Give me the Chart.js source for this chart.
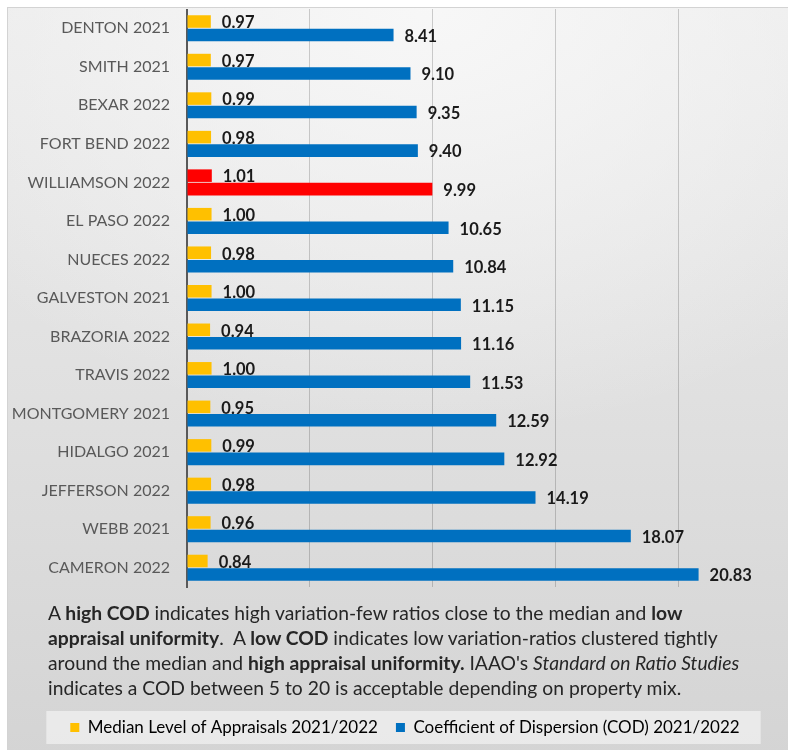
<!DOCTYPE html>
<html>
<head>
<meta charset="utf-8">
<script src="https://cdn.jsdelivr.net/npm/chart.js@4/dist/chart.umd.min.js"></script>
<style>
  html, body { margin: 0; padding: 0; background: #fff; width: 788px; height: 750px; overflow: hidden; }
  #frame {
    position: absolute; left: 7px; top: 7px; width: 840px; height: 780px;
    border: 1px solid #d3d3d3;
    background:
      radial-gradient(ellipse 70% 55% at 50% 0%, rgba(248,248,248,0.95), rgba(248,248,248,0) 100%),
      linear-gradient(to bottom, #ebebeb 0%, #e0e0e0 50%, #d3d3d3 100%);
  }
  #box { position: absolute; left: 9px; top: 9px; width: 800px; height: 741px; }
  #note {
    position: absolute; left: 48px; top: 600px;
    font: 19.3px Lato, "Open Sans", sans-serif; line-height: 25px;
    color: #262626; white-space: nowrap;
  }
</style>
</head>
<body>
<div id="frame"></div>
<div id="box"><canvas id="codChart"></canvas></div>
<div id="note">
  A <b>high COD</b> indicates high variation-few ratios close to the median and <b>low</b><br>
  <b>appraisal uniformity</b>.&nbsp; A <b>low COD</b> indicates low variation-ratios clustered tightly<br>
  around the median and <b>high appraisal uniformity.</b> IAAO's <i>Standard on Ratio Studies</i><br>
  indicates a COD between 5 to 20 is acceptable depending on property mix.
</div>
<script>
// counties, top to bottom
const counties = [
  'DENTON 2021', 'SMITH 2021', 'BEXAR 2022', 'FORT BEND 2022', 'WILLIAMSON 2022',
  'EL PASO 2022', 'NUECES 2022', 'GALVESTON 2021', 'BRAZORIA 2022', 'TRAVIS 2022',
  'MONTGOMERY 2021', 'HIDALGO 2021', 'JEFFERSON 2022', 'WEBB 2021', 'CAMERON 2022'
];
const medianLevel = [0.97, 0.97, 0.99, 0.98, 1.01, 1.00, 0.98, 1.00, 0.94, 1.00, 0.95, 0.99, 0.98, 0.96, 0.84];
const codValues = [8.41, 9.10, 9.35, 9.40, 9.99, 10.65, 10.84, 11.15, 11.16, 11.53, 12.59, 12.92, 14.19, 18.07, 20.83];
const highlight = 'WILLIAMSON 2022';

const YELLOW = '#FFC000';
const BLUE = '#0070C0';
const RED = '#FF0000';

const colorsFor = base => counties.map(c => c === highlight ? RED : base);

// value printed just past the end of each bar
const valueLabels = {
  id: 'valueLabels',
  afterDatasetsDraw(chart) {
    const ctx = chart.ctx;
    ctx.save();
    ctx.font = 'bold 16.5px Lato, sans-serif';
    ctx.fillStyle = '#1a1a1a';
    ctx.textBaseline = 'middle';
    ctx.textAlign = 'left';
    chart.data.datasets.forEach((ds, i) => {
      chart.getDatasetMeta(i).data.forEach((bar, j) => {
        ctx.fillText(ds.data[j].toFixed(2), bar.x + 11, bar.y + 1.5);
      });
    });
    ctx.restore();
  }
};

// light panel behind the legend
const legendPanel = {
  id: 'legendPanel',
  beforeDraw(chart) {
    const boxes = chart.legend && chart.legend.legendHitBoxes;
    if (!boxes || !boxes.length) return;
    const first = boxes[0], last = boxes[boxes.length - 1];
    const ctx = chart.ctx;
    const x0 = first.left - 24, x1 = last.left + last.width + 21;
    const y0 = first.top - 8, y1 = first.top + first.height + 8;
    ctx.save();
    ctx.fillStyle = 'rgba(240,240,240,0.75)';
    ctx.fillRect(x0, y0, x1 - x0, y1 - y0);
    ctx.restore();
  }
};

new Chart(document.getElementById('codChart'), {
  type: 'bar',
  data: {
    labels: counties,
    datasets: [
      {
        label: 'Median Level of Appraisals 2021/2022',
        data: medianLevel,
        backgroundColor: colorsFor(YELLOW),
        borderWidth: 0
      },
      {
        label: 'Coefficient of Dispersion (COD) 2021/2022',
        data: codValues,
        backgroundColor: colorsFor(BLUE),
        borderWidth: 0
      }
    ]
  },
  options: {
    indexAxis: 'y',
    responsive: true,
    maintainAspectRatio: false,
    animation: false,
    categoryPercentage: 0.7,
    barPercentage: 0.93,
    layout: { padding: { top: 0, right: 8, bottom: 4, left: 0 } },
    plugins: {
      tooltip: { enabled: false },
      legend: {
        position: 'bottom',
        labels: {
          boxWidth: 9,
          boxHeight: 9,
          padding: 18,
          color: '#595959',
          font: { family: 'Lato, sans-serif', size: 17 },
          generateLabels(chart) {
            const base = [YELLOW, BLUE];
            return chart.data.datasets.map((ds, i) => ({
              text: ds.label,
              fillStyle: base[i],
              strokeStyle: base[i],
              lineWidth: 0,
              datasetIndex: i
            }));
          }
        }
      }
    },
    scales: {
      x: {
        min: 0,
        max: 25,
        ticks: { stepSize: 5, display: false },
        grid: { color: 'rgba(0,0,0,0.18)', lineWidth: 1, drawTicks: false },
        border: { display: false },
        afterFit(scale) { scale.height = 114; }
      },
      y: {
        grid: { color: 'transparent', drawTicks: false },
        border: { display: true, color: '#595959', width: 2 },
        ticks: {
          color: '#595959',
          padding: 17,
          font: { family: 'Lato, sans-serif', size: 16 }
        },
        afterFit(scale) {
          scale.width = 178;
          scale.paddingTop = 0;
          scale.paddingBottom = 0;
        }
      }
    }
  },
  plugins: [valueLabels, legendPanel]
});
</script>
</body>
</html>
